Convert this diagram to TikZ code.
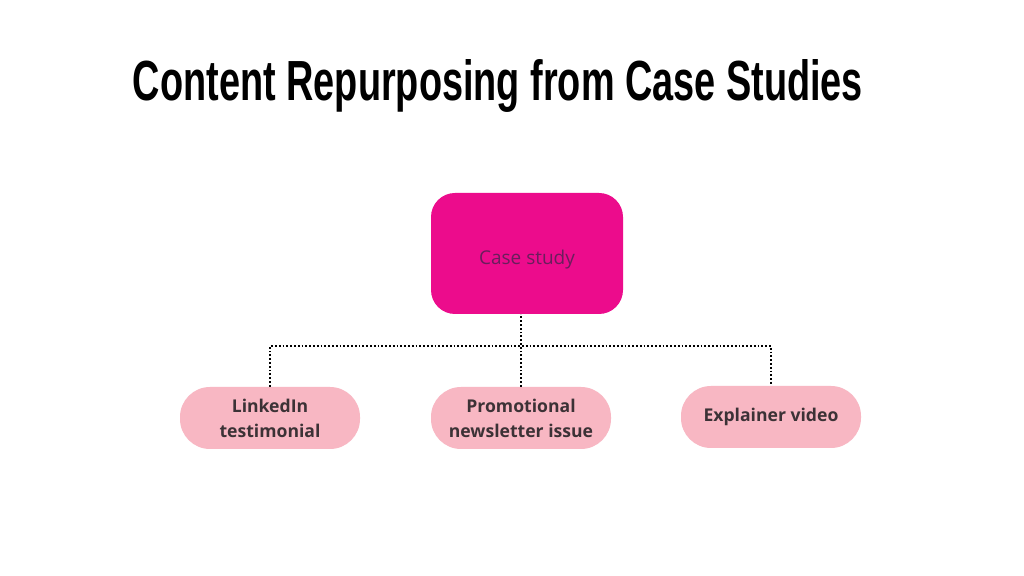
\documentclass[tikz,border=0pt]{standalone}
\usepackage{fontspec}
\usepackage{graphicx}
\setmainfont{Open Sans}
\usetikzlibrary{positioning}

\definecolor{casepink}{HTML}{EC0C8C}
\definecolor{casetext}{HTML}{6A1E5C}
\definecolor{leafpink}{HTML}{F8B7C3}
\definecolor{leaftext}{HTML}{3C3236}

\tikzset{
	casebox/.style={fill=casepink, rounded corners=12pt, minimum width=96pt, minimum height=60.5pt, text=casetext, font=\fontsize{9.5}{11}\selectfont},
	leafbox/.style={fill=leafpink, rounded corners=15pt, minimum width=90pt, minimum height=31pt, text=leaftext, align=center, font=\fontsize{8.8}{12.5}\selectfont\bfseries},
	dotline/.style={densely dotted, line width=0.9pt, black}
}

\begin{document}
\begin{tikzpicture}[x=0.5pt,y=-0.5pt]
	%frame
		\useasboundingbox[fill=white] (0,0) rectangle (1024,576);
	%title
		\node (title) at (498,86) {\resizebox{365pt}{20.5pt}{\fontspec{Liberation Sans}\bfseries Content Repurposing from Case Studies}};
	%boxes
		\node[casebox] (cs) at (527,253.5) {\raisebox{-5.5pt}[0pt][0pt]{Case study}};
		\node[leafbox] (linkedin) at (270,418) {LinkedIn\\testimonial};
		\node[leafbox] (newsletter) at (521,418) {Promotional\\newsletter issue};
		\node[leafbox] (video) at (771,417) {Explainer video};
	%dotted connectors
		\coordinate (bar) at (520,346);
		\draw[dotline] (newsletter.north) -- (newsletter.north |- cs.south);
		\draw[dotline] (linkedin.north) |- (bar) -| (video.north);
\end{tikzpicture}
\end{document}
